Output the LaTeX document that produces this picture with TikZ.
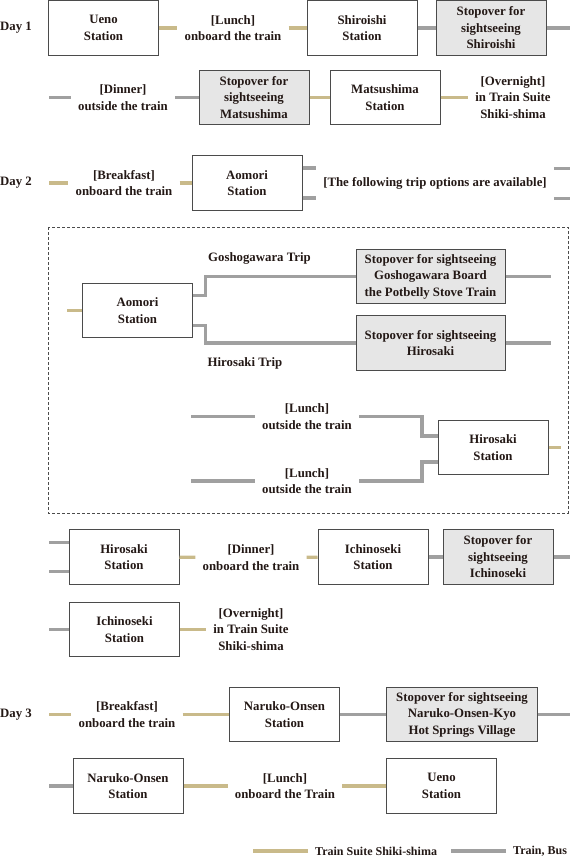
\documentclass[tikz,border=0pt]{standalone}
\usepackage{fontspec}
\setmainfont{Liberation Serif}
\usetikzlibrary{positioning,calc}
\definecolor{suitegold}{RGB}{201,186,138}
\definecolor{railgray}{RGB}{160,160,160}
\definecolor{boxline}{RGB}{75,75,75}
\definecolor{stopfill}{RGB}{230,230,230}
\definecolor{inkdark}{RGB}{35,24,21}

\begin{document}
\begin{tikzpicture}[x=1pt, y=-1pt,
        font=\bfseries\fontsize{12.8}{16.5}\selectfont, text=inkdark,
        stn/.style={draw=boxline, line width=1pt, fill=white, align=center,
            minimum width=110pt, minimum height=54.5pt, inner sep=2pt},
        stop/.style={stn, fill=stopfill},
        note/.style={align=center, inner xsep=7pt, inner ysep=0pt},
        day/.style={anchor=west, inner sep=0pt},
        suite/.style={suitegold, line width=3.2pt},
        rail/.style={railgray, line width=3.2pt}]
        \useasboundingbox (0,0) rectangle (570,857);

        % Day 1
        \node[day] (d1) at (0,28) {Day 1};
        \node[stn] (ueno1) at (103.5,28) {Ueno\\ Station};
        \node[note] (lunch1) at (233,28) {[Lunch]\\ onboard the train};
        \node[stn] (shiroishi) at (362,28) {Shiroishi\\ Station};
        \node[stop, right=18pt of shiroishi] (stopshiroishi) {Stopover for\\ sightseeing\\ Shiroishi};
        \coordinate (r1end) at (570,28);
        \draw[suite] (ueno1) -- (lunch1);
        \draw[suite] (lunch1) -- (shiroishi);
        \draw[rail] (shiroishi) -- (stopshiroishi);
        \draw[rail] (stopshiroishi) -- (r1end);

        \node[note] (dinner1) at (123,97.5) {[Dinner]\\ outside the train};
        \node[stop] (stopmatsu) at (254,97.5) {Stopover for\\ sightseeing\\ Matsushima};
        \node[stn, right=20pt of stopmatsu] (matsushima) {Matsushima\\ Station};
        \node[note] (overnight1) at (513,97.5) {[Overnight]\\ in Train Suite\\ Shiki-shima};
        \coordinate (r2start) at (49,97.5);
        \draw[rail] (r2start) -- (dinner1);
        \draw[rail] (dinner1) -- (stopmatsu);
        \draw[suite] (stopmatsu) -- (matsushima);
        \draw[suite] (matsushima) -- (overnight1);

        % Day 2
        \node[day] (d2) at (0,183) {Day 2};
        \coordinate (r3start) at (49,183);
        \node[note] (breakfast2) at (124,183) {[Breakfast]\\ onboard the train};
        \node[stn] (aomori1) at (247,183) {Aomori\\ Station};
        \node[note] (options) at (435,183.5) {[The following trip options are available]};
        \draw[suite] (r3start) -- (breakfast2);
        \draw[suite] (breakfast2) -- (aomori1);
        \draw[rail] ([yshift=15pt]aomori1.east) -- ++(13,0);
        \draw[rail] ([yshift=-15pt]aomori1.east) -- ++(13,0);
        \draw[rail] ([yshift=15pt]options.east) -- ++(16,0);
        \draw[rail] ([yshift=-15pt]options.east) -- ++(16,0);

        \draw[boxline, line width=0.8pt, dash pattern=on 3pt off 2pt] (48,227) rectangle (568,513);

        \node[stn] (aomori2) at (137.5,310.5) {Aomori\\ Station};
        \node[note] (goshotrip) at (259.5,258) {Goshogawara Trip};
        \node[note] (hirotrip) at (245,363) {Hirosaki Trip};
        \node[stop, minimum width=149pt] (stopgosho) at (430.5,276.5)
            {Stopover for sightseeing\\ Goshogawara Board\\ the Potbelly Stove Train};
        \node[stop, minimum width=149pt] (stophirosaki) at (430.5,343)
            {Stopover for sightseeing\\ Hirosaki};
        \draw[suite] (aomori2.west) -- ++(-15,0);
        \draw[rail] ([yshift=15pt]aomori2.east) -- ++(12.5,0) |- (stopgosho);
        \draw[rail] ([yshift=-15pt]aomori2.east) -- ++(12.5,0) |- (stophirosaki);
        \draw[rail] (stopgosho.east) -- ++(45,0);
        \draw[rail] (stophirosaki.east) -- ++(45,0);

        \node[note] (lunchA) at (307,416.5) {[Lunch]\\ outside the train};
        \node[note] (lunchB) at (307,481) {[Lunch]\\ outside the train};
        \node[stn] (hirosaki3) at (493,447.5) {Hirosaki\\ Station};
        \coordinate (lunchAin) at (191,416.5);
        \coordinate (lunchBin) at (191,481);
        \draw[rail] (lunchAin) -- (lunchA);
        \draw[rail] (lunchBin) -- (lunchB);
        \draw[rail] ([yshift=11.5pt]hirosaki3.west) -- ++(-15.5,0) |- (lunchA);
        \draw[rail] ([yshift=-14.5pt]hirosaki3.west) -- ++(-15.5,0) |- (lunchB);
        \draw[suite] (hirosaki3.east) -- ++(12,0);

        \node[stn] (hirosaki4) at (124,557) {Hirosaki\\ Station};
        \node[note] (dinner2) at (251,557.5) {[Dinner]\\ onboard the train};
        \node[stn] (ichinoseki) at (373,557) {Ichinoseki\\ Station};
        \node[stop, right=14pt of ichinoseki] (stopichinoseki) {Stopover for\\ sightseeing\\ Ichinoseki};
        \coordinate (r4end) at (570,557);
        \draw[rail] ([yshift=14.5pt]hirosaki4.west) -- ++(-20,0);
        \draw[rail] ([yshift=-14.5pt]hirosaki4.west) -- ++(-20,0);
        \draw[suite] (hirosaki4) -- (dinner2);
        \draw[suite] (dinner2) -- (ichinoseki);
        \draw[rail] (ichinoseki) -- (stopichinoseki);
        \draw[rail] (stopichinoseki) -- (r4end);

        \node[stn] (ichinoseki2) at (124.5,629.5) {Ichinoseki\\ Station};
        \node[note] (overnight2) at (251,629.5) {[Overnight]\\ in Train Suite\\ Shiki-shima};
        \draw[rail] (ichinoseki2.west) -- ++(-20,0);
        \draw[suite] (ichinoseki2) -- (overnight2);

        % Day 3
        \node[day] (d3) at (0,714.5) {Day 3};
        \coordinate (r6start) at (49,714.5);
        \node[note] (breakfast3) at (127,714.5) {[Breakfast]\\ onboard the train};
        \node[stn] (naruko1) at (284.5,714.5) {Naruko-Onsen\\ Station};
        \node[stop, minimum width=151pt, right=46pt of naruko1] (stopnaruko)
            {Stopover for sightseeing\\ Naruko-Onsen-Kyo\\ Hot Springs Village};
        \coordinate (r6end) at (570,714.5);
        \draw[suite] (r6start) -- (breakfast3);
        \draw[suite] (breakfast3) -- (naruko1);
        \draw[rail] (naruko1) -- (stopnaruko);
        \draw[rail] (stopnaruko) -- (r6end);

        \node[stn] (naruko2) at (128,786) {Naruko-Onsen\\ Station};
        \node[note] (lunch3) at (285,786) {[Lunch]\\ onboard the Train};
        \node[stn] (ueno2) at (441.5,786) {Ueno\\ Station};
        \draw[rail] (naruko2.west) -- ++(-24,0);
        \draw[suite] (naruko2) -- (lunch3);
        \draw[suite] (lunch3) -- (ueno2);

        % legend
        \node[note, anchor=west, font=\bfseries\fontsize{12}{14}\selectfont] (keysuite) at (308,851) {Train Suite Shiki-shima};
        \node[note, anchor=west, font=\bfseries\fontsize{12}{14}\selectfont] (keyrail) at (506,851) {Train, Bus};
        \draw[suite] (keysuite.west) -- ++(-55,0);
        \draw[rail] (keyrail.west) -- ++(-55,0);
    \end{tikzpicture}
\end{document}
